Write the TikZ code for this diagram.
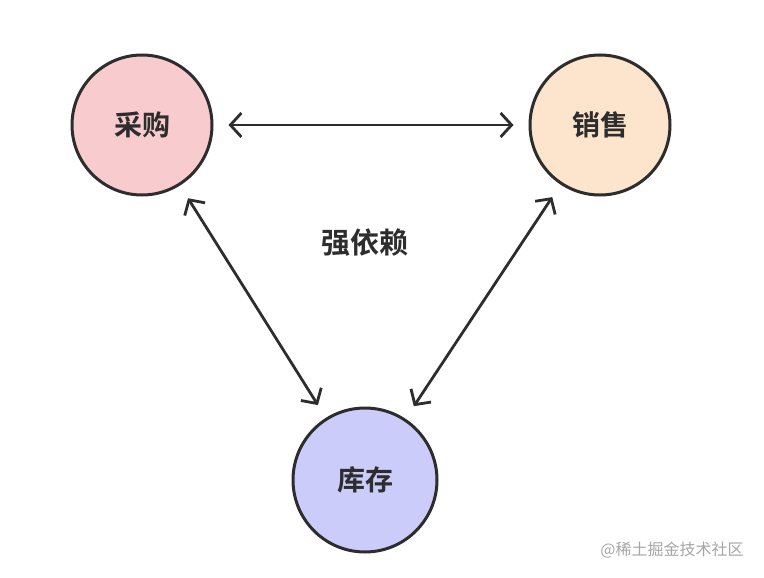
\documentclass[tikz,border=0pt]{standalone}
\usepackage{fontspec}
\newfontfamily\cjk{Noto Sans CJK SC}[BoldFont={Noto Sans CJK SC Bold}]
\usetikzlibrary{arrows.meta}
\definecolor{pinkfill}{RGB}{248,204,206}
\definecolor{peachfill}{RGB}{253,228,204}
\definecolor{bluefill}{RGB}{204,204,250}
\definecolor{ink}{RGB}{45,45,45}
\tikzset{
  dept/.style={circle, minimum size=140pt, draw=ink, line width=3pt, font=\cjk\bfseries\fontsize{28}{32}\selectfont, text=ink},
  arrow/.style={line width=2.8pt, draw=ink, {Straight Barb[length=11pt,width=24pt,line width=2.8pt]}-{Straight Barb[length=11pt,width=24pt,line width=2.8pt]}, shorten >=15pt, shorten <=15pt}
}
\begin{document}
\begin{tikzpicture}[x=1pt,y=-1pt]
  \useasboundingbox (0,0) rectangle (764,578);
  \node (cg) [dept, fill=pinkfill] at (142,125) {采购};
  \node (xs) [dept, fill=peachfill] at (600,125) {销售};
  \node (kc) [dept, fill=bluefill, minimum size=144pt] at (365,480) {库存};
  \node (dep) [font=\cjk\bfseries\fontsize{29}{33}\selectfont, text=ink] at (365,243) {强依赖};
  \node (wm) [font=\cjk\fontsize{16}{18}\selectfont, text=gray!70] at (672,550) {@稀土掘金技术社区};

  \draw [arrow] (cg) -- (xs);
  \draw [arrow] (cg) -- (kc);
  \draw [arrow] (xs) -- (kc);
\end{tikzpicture}
\end{document}
